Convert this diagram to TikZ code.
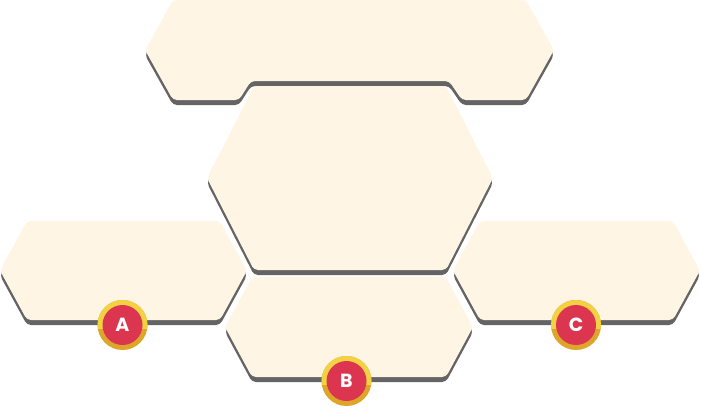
\documentclass[tikz,border=0pt]{standalone}
\usepackage{fontspec}
\setsansfont{Poppins}
\definecolor{hexfill}{HTML}{FEF5E5}
\definecolor{hexshade}{HTML}{646464}
\definecolor{badgered}{HTML}{DC354F}
\definecolor{ringlight}{HTML}{F2D142}
\definecolor{ringdark}{HTML}{DEA52B}

\begin{document}
\begin{tikzpicture}[x=1pt,y=-1pt,line join=round,
  hexbody/.style={fill=hexfill,rounded corners=4pt},
  hexshadow/.style={fill=hexshade,rounded corners=4pt,yshift=-5pt},
  badgetext/.style={text=white,inner sep=0pt,font=\sffamily\bfseries\fontsize{19}{19}\selectfont}]
  \useasboundingbox (0,0) rectangle (701,407);
  % top panel, notched around the centre one
  \foreach \look in {hexshadow,hexbody} {
    \fill[\look] (173,0) -- (526,0) -- (554,50) -- (526,100) -- (462,100)
      -- (449,81) -- (251,81) -- (239,100) -- (173,100) -- (145,50) -- cycle;
  }
  % plain panels
  \foreach \name/\xl/\xr/\yt/\yb/\ym/\ins in {%
    M/207/493/86/270/178/47,%
    A/0/247/221/320/270.5/27,%
    C/453/700/221/320/270.5/27,%
    B/225/473/277/377/327/27%
  } {
    \foreach \look in {hexshadow,hexbody} {
      \fill[\look] ({\xl+\ins},\yt) -- ({\xr-\ins},\yt) -- (\xr,\ym)
        -- ({\xr-\ins},\yb) -- ({\xl+\ins},\yb) -- (\xl,\ym) -- cycle;
    }
  }
  % badges
  \foreach \lab/\cx/\cy in {A/122.5/325,B/346.5/381,C/576/325} {
    \fill[ringdark] (\cx,\cy) circle[radius=25pt];
    \begin{scope}
      \clip ({\cx-26},{\cy-26}) rectangle ({\cx+26},{\cy+3});
      \fill[ringlight] (\cx,\cy) circle[radius=25pt];
    \end{scope}
    \fill[badgered] (\cx,\cy) circle[radius=20pt];
    \node[badgetext] (badge\lab) at (\cx,\cy) {\lab};
  }
\end{tikzpicture}
\end{document}
